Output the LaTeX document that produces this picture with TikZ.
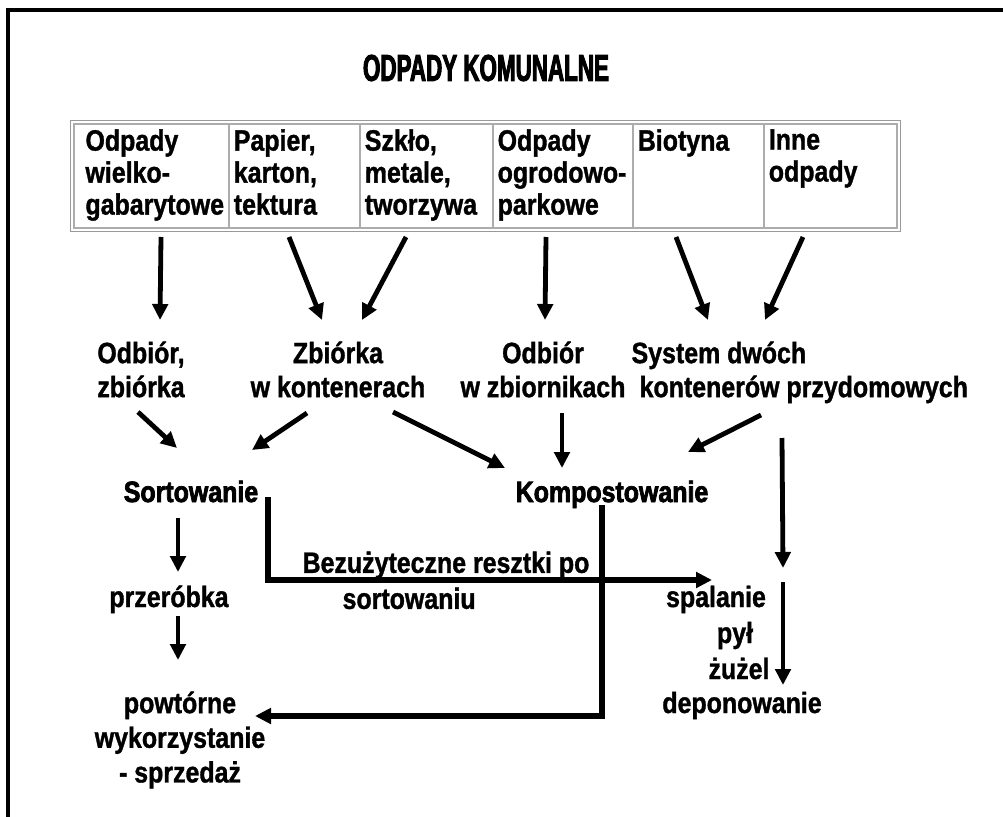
\documentclass[tikz,border=0pt]{standalone}
\usepackage{fontspec}
\setmainfont{Liberation Sans}[FakeStretch=0.85, BoldFeatures={FakeBold=1.2}]
\newfontfamily\titlefont{Liberation Sans Bold}[FakeStretch=0.6, FakeBold=2.5]
\newfontfamily\heavyfont{Liberation Sans Bold}[FakeStretch=0.85, FakeBold=2.5]
\usetikzlibrary{arrows.meta}

% text of one table cell, kept at the top of a fixed-height box
\newcommand{\celltext}[2]{\parbox[c][70pt][t]{#1}{\raggedright\exhyphenpenalty=10000\hbadness=10000 #2}}

\begin{document}
\begin{tikzpicture}[
  x=0.75pt, y=-0.75pt,
  every node/.style={font=\bfseries\fontsize{22}{25.5}\selectfont},
  cell/.style={draw=gray!65, line width=1.5pt, anchor=north west, inner xsep=0pt, inner ysep=4pt, font=\bfseries\fontsize{22}{24}\selectfont},
  lbl/.style={align=center, inner sep=1pt},
  heavy/.style={font=\heavyfont\fontsize{22}{25.5}\selectfont},
  arrow/.style={-{Triangle[length=12pt,width=11.5pt]}, line width=3.6pt},
  route/.style={arrow, line width=4.2pt},
  frame/.style={line width=3pt},
]
\useasboundingbox (0,0) rectangle (1003,817);
\fill[white] (0,0) rectangle (1003,817);
\draw[frame] (1003,10) -- (8,10) -- (8,817);

\node[font=\titlefont\fontsize{28}{28}\selectfont] (title) at (486,68) {ODPADY KOMUNALNE};

% kinds of waste
\node[cell, minimum width=116.25pt] (c1) at (73,123) {\celltext{115pt}{\leftskip=8pt Odpady\\wielko-\\gabarytowe}};
\node[cell, minimum width=98.25pt] (c2) at (228,123) {\celltext{97pt}{\leftskip=3pt Papier,\\karton,\\tektura}};
\node[cell, minimum width=99.75pt] (c3) at (359,123) {\celltext{98.5pt}{\leftskip=3pt Szkło,\\metale,\\tworzywa}};
\node[cell, minimum width=105pt] (c4) at (492,123) {\celltext{104pt}{\leftskip=3pt Odpady\\ogrodowo-\\parkowe}};
\node[cell, minimum width=98.25pt] (c5) at (632,123) {\celltext{97pt}{\leftskip=3pt Biotyna}};
\node[cell, minimum width=99.75pt] (c6) at (763,123) {\celltext{98.5pt}{\leftskip=3pt Inne\\odpady}};
\draw[gray!80, line width=1pt] ([shift={(-2.5,-2.5)}]c1.north west) rectangle ([shift={(2.5,2.5)}]c6.south east);

% collection
\node[lbl, anchor=north] (odb) at (141,340) {Odbiór,\\zbiórka};
\node[lbl, anchor=north] (zbk) at (338,340) {Zbiórka\\w kontenerach};
\node[lbl, anchor=north] (zbi) at (543,340) {Odbiór\\w zbiornikach};
\node[lbl, anchor=north west, align=left] (sys) at (630,340) {System dwóch\\\hspace*{6pt}kontenerów przydomowych};

% treatment
\node[heavy, anchor=base] (sort) at (191,502) {Sortowanie};
\node[heavy, anchor=base] (komp) at (612,502) {Kompostowanie};
\node[anchor=base] (przer) at (169,607) {przeróbka};
\node[lbl, anchor=north, font=\bfseries\fontsize{22}{26}\selectfont] (powt) at (180,690) {powtórne\\wykorzystanie\\- sprzedaż};
\node[lbl, anchor=north west, align=left, font=\bfseries\fontsize{22}{27}\selectfont] (bez) at (301,550) {Bezużyteczne resztki po\\\hspace*{30pt}sortowaniu};
\node[anchor=base] (sp) at (716,607) {spalanie};
\node[anchor=base] (pyl) at (735,643) {pył};
\node[anchor=base] (zuz) at (739,679) {żużel};
\node[anchor=base] (depo) at (742,713) {deponowanie};

\draw[arrow] ([shift={(9.5,8)}]c1.south) -- ([shift={(19,-20)}]odb.north);
\draw[arrow] ([shift={(-5.5,8)}]c2.south) -- ([shift={(-16,-20)}]zbk.north);
\draw[arrow] ([shift={(-20.5,8)}]c3.south) -- ([shift={(24,-20)}]zbk.north);
\draw[arrow] ([shift={(-17,8)}]c4.south) -- ([shift={(2,-20)}]zbi.north);
\draw[arrow] ([shift={(-22.5,8)}]c5.south) -- ([shift={(78,-20)}]sys.north west);
\draw[arrow] ([shift={(-27.5,8)}]c6.south) -- ([shift={(135,-20)}]sys.north west);

\draw[arrow] ([shift={(-3,72)}]odb.north) -- ([shift={(-14,-54)}]sort.base);
\draw[arrow] ([shift={(-31,73)}]zbk.north) -- ([shift={(61,-52)}]sort.base);
\draw[arrow] ([shift={(55,72)}]zbk.north) -- ([shift={(-107,-34)}]komp.base);
\draw[arrow] ([shift={(19,73)}]zbi.north) -- ([shift={(-50,-34)}]komp.base);
\draw[arrow] ([shift={(131,75)}]sys.north west) -- ([shift={(76,-50)}]komp.base);
\draw[arrow] ([shift={(152,98)}]sys.north west) -- ([shift={(67,-39)}]sp.base);

\draw[route] ([shift={(77,-5)}]sort.base) |- ([shift={(-4,-27)}]sp.base);
\draw[route] ([shift={(-10,3)}]komp.base) |- ([shift={(75,26)}]powt.north);
\draw[arrow] ([shift={(-13,16)}]sort.base) -- ([shift={(9,-35)}]przer.base);
\draw[arrow] ([shift={(9,9)}]przer.base) -- ([shift={(-2,-30)}]powt.north);
\draw[arrow] ([shift={(67,-25)}]sp.base) -- ([shift={(41,-28)}]depo.base);
\end{tikzpicture}
\end{document}
